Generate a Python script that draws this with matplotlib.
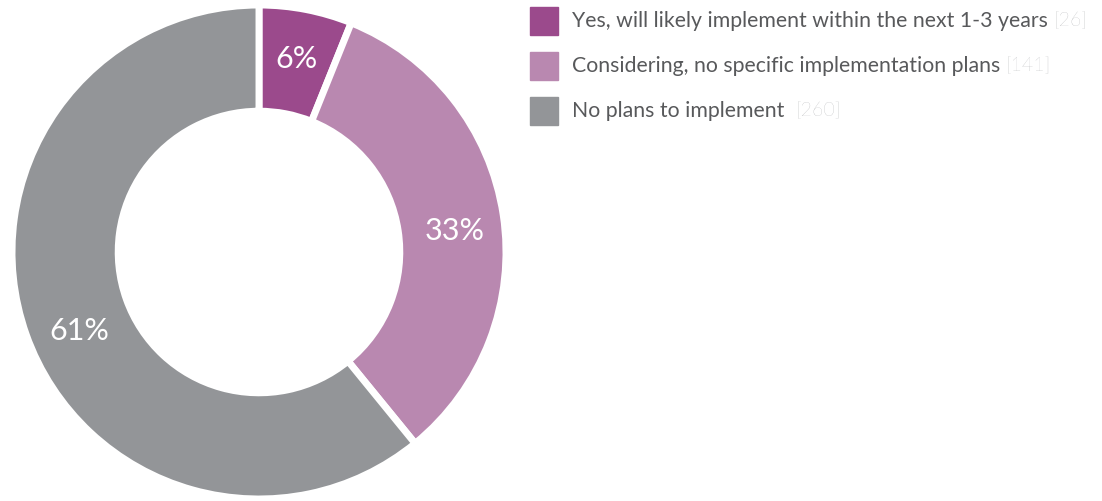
import matplotlib
matplotlib.use("Agg")
import matplotlib.pyplot as plt
import numpy as np
from matplotlib.patches import Rectangle

plt.rcParams['font.family'] = ['Lato', 'DejaVu Sans']

labels = ['Yes, will likely implement within the next 1-3 years',
          'Considering, no specific implementation plans',
          'No plans to implement ']
counts = [26, 141, 260]
colors = ['#9b4a8c', '#b988b0', '#939598']

W, H = 1102, 501
fig = plt.figure(figsize=(W / 100, H / 100), dpi=100)

# donut: centre at (259, 252) px from top-left, outer radius ~247 px
ax = fig.add_axes([9 / W, -1 / H, 500 / W, 500 / H])
total = sum(counts)
wedges, _ = ax.pie(counts, colors=colors, startangle=90, counterclock=False,
                   radius=1.0,
                   wedgeprops=dict(width=0.43, edgecolor='white', linewidth=5))

# percentage labels in the middle of the ring (small nudges like the original)
nudge = [0, -2.5, 4]
for w, c, d in zip(wedges, counts, nudge):
    ang = np.deg2rad((w.theta1 + w.theta2) / 2 + d)
    ax.text(0.795 * np.cos(ang), 0.795 * np.sin(ang), f'{c / total:.0%}',
            color='white', fontsize=22, ha='center', va='center')

ax.set_xlim(-250 / 247, 250 / 247)
ax.set_ylim(-250 / 247, 250 / 247)
ax.set_aspect('equal')
ax.axis('off')

# legend rows
fig.canvas.draw()
renderer = fig.canvas.get_renderer()
for i, (lab, n, col) in enumerate(zip(labels, counts, colors)):
    top = 7 + i * 45
    fig.patches.append(Rectangle((530 / W, 1 - (top + 28) / H), 28 / W, 28 / H,
                                 transform=fig.transFigure, color=col, figure=fig))
    t = fig.text(572 / W, 1 - (top + 14) / H, lab, color='#58595b', fontsize=15.3,
                 va='center', ha='left')
    bb = t.get_window_extent(renderer)
    fig.text((bb.x1 + 6) / W, 1 - (top + 14) / H, f'[{n}]', color='#a0a2a5',
             fontsize=14, fontweight='light', va='center', ha='left')

fig.savefig('out.png', dpi=100)
